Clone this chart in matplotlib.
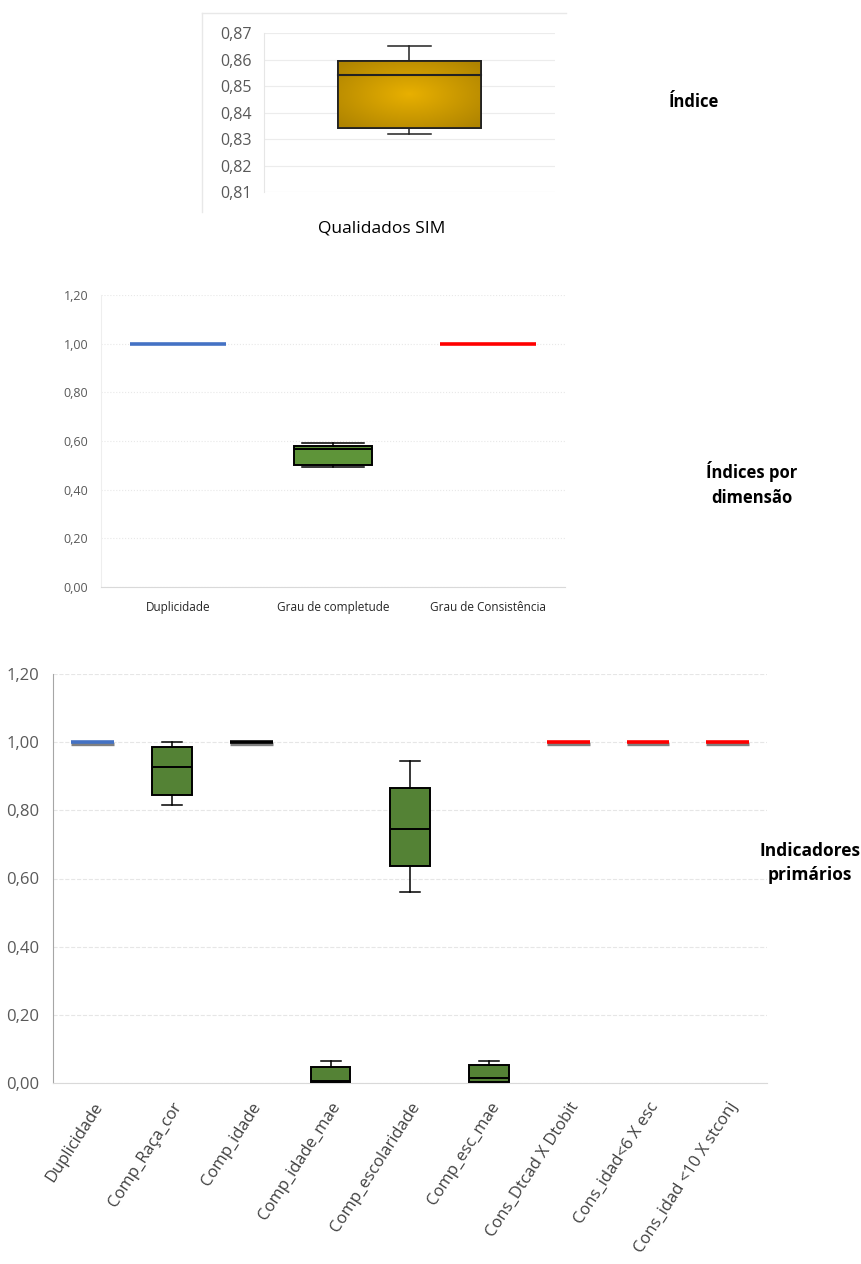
import numpy as np
import matplotlib.pyplot as plt
from matplotlib.lines import Line2D
from matplotlib.patches import Rectangle

plt.rcParams['font.family'] = ['Open Sans', 'DejaVu Sans']

W, H = 862, 1264

# ---- data ----
# panel 1: overall index
idx_label = "Qualidados SIM"
idx_stats = [dict(whislo=0.832, q1=0.834, med=0.854, q3=0.8595, whishi=0.865)]

# panel 2: indices by dimension
dim_labels = ["Duplicidade", "Grau de completude", "Grau de Consistência"]
dim_stats = [
    dict(whislo=1.0, q1=1.0, med=1.0, q3=1.0, whishi=1.0),
    dict(whislo=0.495, q1=0.50, med=0.566, q3=0.578, whishi=0.592),
    dict(whislo=1.0, q1=1.0, med=1.0, q3=1.0, whishi=1.0),
]
dim_colors = ["#4472C4", "#5E9439", "#FF0000"]

# panel 3: primary indicators
ind_labels = ["Duplicidade", "Comp_Raça_cor", "Comp_idade", "Comp_idade_mae",
              "Comp_escolaridade", "Comp_esc_mae", "Cons_Dtcad X Dtobit",
              "Cons_idad<6 X esc", "Cons_idad <10 X stconj"]
ind_stats = [
    dict(whislo=1.0, q1=1.0, med=1.0, q3=1.0, whishi=1.0),
    dict(whislo=0.815, q1=0.845, med=0.927, q3=0.985, whishi=1.0),
    dict(whislo=1.0, q1=1.0, med=1.0, q3=1.0, whishi=1.0),
    dict(whislo=0.003, q1=0.003, med=0.005, q3=0.047, whishi=0.065),
    dict(whislo=0.56, q1=0.636, med=0.745, q3=0.865, whishi=0.944),
    dict(whislo=0.0, q1=0.002, med=0.015, q3=0.053, whishi=0.065),
    dict(whislo=1.0, q1=1.0, med=1.0, q3=1.0, whishi=1.0),
    dict(whislo=1.0, q1=1.0, med=1.0, q3=1.0, whishi=1.0),
    dict(whislo=1.0, q1=1.0, med=1.0, q3=1.0, whishi=1.0),
]
ind_colors = ["#4472C4", "#548235", "#000000", "#548235", "#548235",
              "#548235", "#FF0000", "#FF0000", "#FF0000"]


def px_axes(fig, x0, y0, x1, y1):
    return fig.add_axes([x0 / W, 1 - y1 / H, (x1 - x0) / W, (y1 - y0) / H])


def fmt(v, nd):
    return f"{v:.{nd}f}".replace(".", ",")


def draw_boxes(ax, stats, colors, width, capw):
    # Excel style: boxes with whiskers; boxes with no spread become flat lines
    flat = []
    for i, (s, c) in enumerate(zip(stats, colors)):
        if s["q1"] == s["q3"]:
            flat.append((i, s["med"], c))
            continue
        ax.bxp([s], positions=[i], widths=width, showfliers=False,
               patch_artist=True, capwidths=capw,
               boxprops=dict(facecolor=c, edgecolor="black", linewidth=1.4),
               medianprops=dict(color="black", linewidth=1.4),
               whiskerprops=dict(color="black", linewidth=1.1),
               capprops=dict(color="black", linewidth=1.1), zorder=3)
    return flat


fig = plt.figure(figsize=(W / 100, H / 100), dpi=100)

# ---------------- panel 1 ----------------
for xs, ys in [((202, 566), (13, 13)), ((202, 202), (13, 212))]:
    fig.add_artist(Line2D([x / W for x in xs], [1 - y / H for y in ys],
                          color="#e8e8e8", lw=1, transform=fig.transFigure))
ax1 = px_axes(fig, 264, 33, 555, 192)
ax1.bxp(idx_stats, positions=[0], widths=0.49, showfliers=False,
        patch_artist=True, capwidths=0.15,
        boxprops=dict(facecolor="#C99A00", edgecolor="#222222", linewidth=1.3),
        medianprops=dict(color="#222222", linewidth=1.5),
        whiskerprops=dict(color="#222222", linewidth=1.1),
        capprops=dict(color="#222222", linewidth=1.1), zorder=3)
box = ax1.patches[0]
s = idx_stats[0]
gx, gy = np.meshgrid(np.linspace(-1, 1, 200), np.linspace(-1, 1, 100))
r = np.clip(np.sqrt(gx ** 2 + gy ** 2) / 1.3, 0, 1)
c_in = np.array([0.91, 0.69, 0.0])
c_out = np.array([0.69, 0.52, 0.0])
img = c_in[None, None, :] * (1 - r[..., None]) + c_out[None, None, :] * r[..., None]
im = ax1.imshow(img, extent=(-0.245, 0.245, s["q1"], s["q3"]), aspect="auto",
                zorder=3.5, interpolation="bilinear")
im.set_clip_path(box)
ax1.plot([-0.245, 0.245], [s["med"]] * 2, color="#222222", lw=1.5, zorder=4)
ax1.add_patch(Rectangle((-0.245, s["q1"]), 0.49, s["q3"] - s["q1"], fill=False,
                        edgecolor="#222222", lw=1.3, zorder=4))
ax1.set_xlim(-0.5, 0.5)
ax1.set_ylim(0.81, 0.87)
ticks1 = np.arange(0.81, 0.8701, 0.01)
ax1.set_yticks(ticks1)
ax1.set_yticklabels([fmt(t, 2) for t in ticks1], fontsize=11.5, color="#595959")
ax1.set_xticks([])
ax1.text(0.405, -0.228, idx_label, transform=ax1.transAxes, fontsize=12.5,
         ha="center", va="center")
ax1.tick_params(axis="y", length=0, pad=9)
ax1.grid(axis="y", color="#ececec", lw=0.8)
ax1.set_axisbelow(True)
for sp in ax1.spines.values():
    sp.set_visible(False)
ax1.spines["left"].set_visible(True)
ax1.spines["left"].set_color("#e6e6e6")
ax1.set_facecolor("none")
fig.text(694 / W, 1 - 102 / H, "Índice", fontsize=12, fontweight="bold",
         ha="center", va="center")

# ---------------- panel 2 ----------------
ax2 = px_axes(fig, 101, 295, 565, 587)
flat = draw_boxes(ax2, dim_stats, dim_colors, 0.51, 0.4)
for i, v, c in flat:
    ax2.plot([i - 0.31, i + 0.31], [v, v], color=c, lw=2.6, zorder=3,
             solid_capstyle="butt")
ax2.set_xlim(-0.5, len(dim_labels) - 0.5)
ax2.set_ylim(0, 1.2)
ticks2 = np.arange(0, 1.201, 0.2)
ax2.set_yticks(ticks2)
ax2.set_yticklabels([fmt(t, 2) for t in ticks2], fontsize=9, color="#595959")
ax2.set_xticks(range(len(dim_labels)))
ax2.set_xticklabels(dim_labels, fontsize=8.5, color="#262626")
ax2.tick_params(axis="x", length=0, pad=10)
ax2.tick_params(axis="y", length=0, pad=9)
ax2.grid(axis="y", color="#e8e8e8", lw=0.8, ls=":")
ax2.set_axisbelow(True)
for sp in ["top", "right"]:
    ax2.spines[sp].set_visible(False)
ax2.spines["left"].set_color("#eeeeee")
ax2.spines["bottom"].set_color("#d9d9d9")
fig.text(752 / W, 1 - 484 / H, "Índices por\ndimensão", fontsize=12,
         fontweight="bold", ha="center", va="center", linespacing=1.5)

# ---------------- panel 3 ----------------
ax3 = px_axes(fig, 53, 674, 767, 1083)
flat = draw_boxes(ax3, ind_stats, ind_colors, 0.5, 0.25)
for i, v, c in flat:
    ax3.plot([i - 0.27, i + 0.27], [v - 0.004, v - 0.004], color="#808080",
             lw=2.4, zorder=2.9, solid_capstyle="butt")
    ax3.plot([i - 0.27, i + 0.27], [v, v], color=c, lw=2.6, zorder=3,
             solid_capstyle="butt")
ax3.set_xlim(-0.5, len(ind_labels) - 0.5)
ax3.set_ylim(0, 1.2)
ticks3 = np.arange(0, 1.201, 0.2)
ax3.set_yticks(ticks3)
ax3.set_yticklabels([fmt(t, 2) for t in ticks3], fontsize=12, color="#595959")
ax3.set_xticks(range(len(ind_labels)))
ax3.set_xticklabels(ind_labels, fontsize=12, color="#404040", rotation=57,
                    ha="right", rotation_mode="anchor")
ax3.tick_params(axis="x", length=0, pad=12)
ax3.tick_params(axis="y", length=0, pad=10)
ax3.grid(axis="y", color="#e6e6e6", lw=0.8, ls="--")
ax3.set_axisbelow(True)
for sp in ["top", "right"]:
    ax3.spines[sp].set_visible(False)
ax3.spines["left"].set_color("#a6a6a6")
ax3.spines["bottom"].set_color("#d9d9d9")
fig.text(810 / W, 1 - 863 / H, "Indicadores\nprimários", fontsize=12.5,
         fontweight="bold", ha="center", va="center", linespacing=1.45)

fig.savefig("out.png", dpi=100)
